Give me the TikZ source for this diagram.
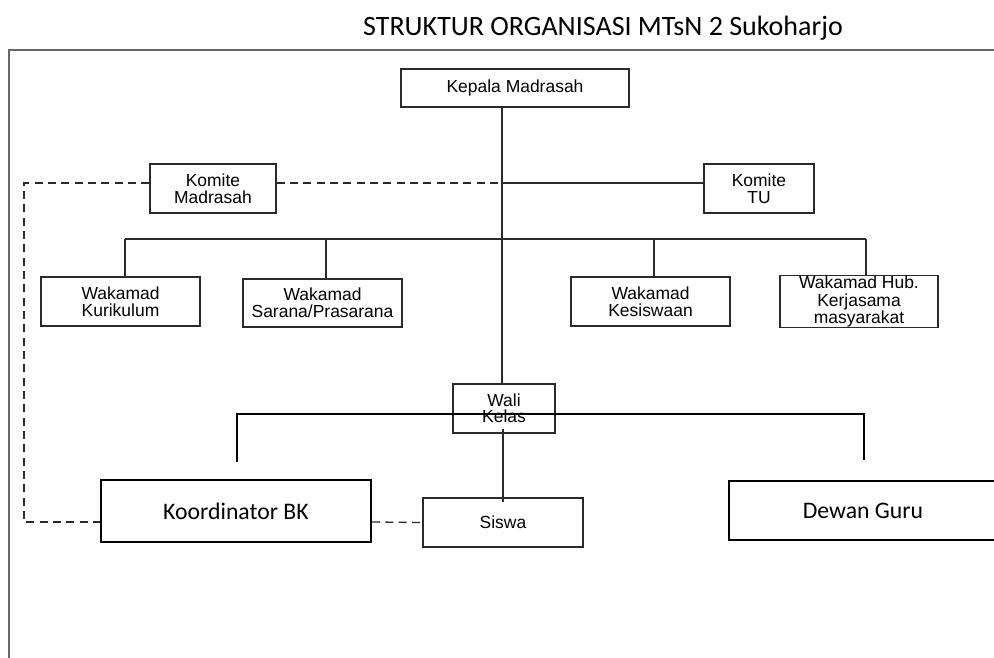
\documentclass[tikz,border=0pt]{standalone}
\usepackage{fontspec}
\setmainfont{Liberation Sans}
\newfontfamily\calfont{Carlito}
\usetikzlibrary{calc}
\definecolor{framegray}{HTML}{666666}
\definecolor{linegray}{HTML}{2A2A2A}
\tikzset{
  smallbox/.style={draw=linegray, line width=1pt, inner sep=0pt, align=center,
    font=\fontsize{13.1}{13}\selectfont},
  bigbox/.style={draw=black, line width=1.6pt, inner sep=0pt, align=center,
    font=\calfont\fontsize{17.8}{20}\selectfont},
  conn/.style={draw=linegray, line width=1pt},
  thickconn/.style={draw=black, line width=1.6pt},
  dashconn/.style={draw=linegray, line width=1pt, dash pattern=on 6pt off 4pt},
  wh/.style 2 args={minimum width={#1*0.75pt}, minimum height={#2*0.75pt}}
}
\begin{document}
\begin{tikzpicture}[x=0.75pt, y=-0.75pt]
\useasboundingbox (0,0) rectangle (994,657);
\clip (0,0) rectangle (994,657);
\fill[white] (0,0) rectangle (994,657);

% title
\node[font=\calfont\fontsize{21}{24}\selectfont, anchor=base] (title) at (603,35) {STRUKTUR ORGANISASI MTsN 2 Sukoharjo};

% frame
\draw[framegray, line width=1.5pt] (9,1000) -- (9,50) -- (1010,50);

% nodes
\node[smallbox, wh={228}{38}] (kepala) at (515,88) {Kepala Madrasah};
\node[smallbox, wh={126}{49}] (kmad) at (213,188.5) {Komite\\Madrasah};
\node[smallbox, wh={110}{49}] (ktu) at (759,188.5) {Komite\\TU};
\node[smallbox, wh={159}{49}] (kur) at (120.5,301.5) {Wakamad\\Kurikulum};
\node[smallbox, wh={159}{48}] (sar) at (322.5,303) {Wakamad\\Sarana/Prasarana};
\node[smallbox, wh={159}{49}] (kes) at (650.5,301.5) {Wakamad\\Kesiswaan};
\node[smallbox, wh={158}{49}, font=\fontsize{13.1}{13.3}\selectfont] (hub) at (859,301.5) {Wakamad Hub.\\Kerjasama\\masyarakat};
\node[smallbox, wh={102}{49}, font=\fontsize{13.1}{12}\selectfont] (wali) at (504,408.5) {Wali\\Kelas};
\node[smallbox, wh={160}{49}] (siswa) at (503,522.5) {Siswa};
\node[bigbox, wh={270}{62}] (bk) at (236,511) {Koordinator BK};
\node[bigbox, wh={268}{59}] (dewan) at (863,510.5) {Dewan Guru};

% spine
\coordinate (sp) at (502,0);
\draw[conn] (kepala.south -| sp) -- (wali.north -| sp);

% komite line
\coordinate (kj) at (502,183);
\draw[dashconn] (kmad.east |- kj) -- (kj);
\draw[conn] (kj) -- (ktu.west |- kj);
\coordinate (dl) at (24,183);
\coordinate (dlb) at (24,522);
\draw[dashconn] (kmad.west |- kj) -- (dl) -- (dlb) -- (bk.west |- dlb);
\draw[dashconn] (bk.east |- dlb) -- (siswa.west);

% wakamad bus
\coordinate (b1) at (125,239);
\coordinate (b2) at (326,239);
\coordinate (b3) at (654,239);
\coordinate (b4) at (866,239);
\draw[conn] (b1) -- (b4);
\draw[conn] (b1) -- (b1 |- kur.north);
\draw[conn] (b2) -- (b2 |- sar.north);
\draw[conn] (b3) -- (b3 |- kes.north);
\draw[conn] (b4) -- (b4 |- hub.north);

% wali bus
\coordinate (wl) at (237,414);
\coordinate (wr) at (864,414);
\coordinate (wld) at (237,462);
\coordinate (wrd) at (864,460);
\draw[thickconn] (wld) -- (wl) -- (wr) -- (wrd);

% wali to siswa
\coordinate (ws1) at (503,429);
\coordinate (ws2) at (503,502);
\draw[conn] (ws1) -- (ws2);
\end{tikzpicture}
\end{document}
